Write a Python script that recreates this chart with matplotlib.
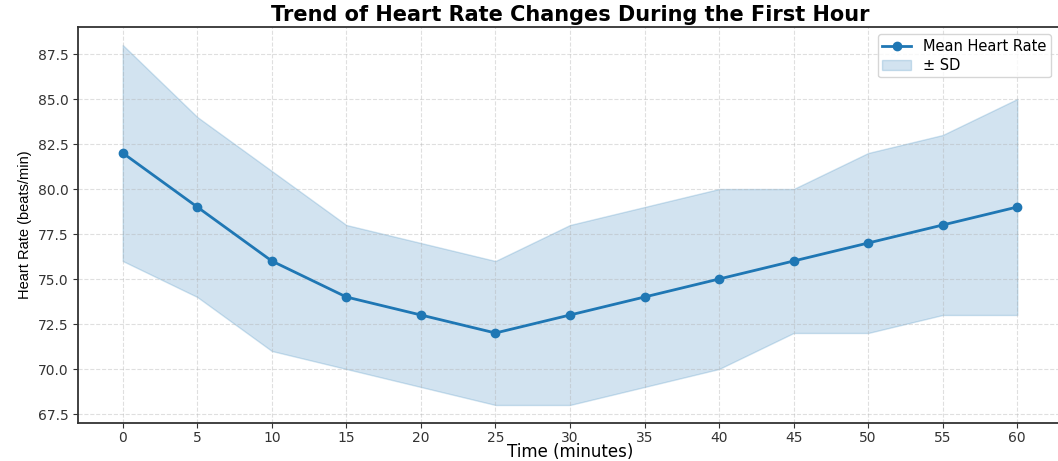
import numpy as np
import matplotlib.pyplot as plt

plt.rcParams["font.family"] = "DejaVu Sans"

# Heart rate over the first hour
time_min = [0, 5, 10, 15, 20, 25, 30, 35, 40, 45, 50, 55, 60]
mean_hr = [82, 79, 76, 74, 73, 72, 73, 74, 75, 76, 77, 78, 79]
upper_hr = [88, 84, 81, 78, 77, 76, 78, 79, 80, 80, 82, 83, 85]
lower_hr = [76, 74, 71, 70, 69, 68, 68, 69, 70, 72, 72, 73, 73]

fig = plt.figure(figsize=(10.58, 4.61), dpi=100)
ax = fig.add_axes([78 / 1058, 38 / 461, 984 / 1058, 396 / 461])

ax.plot(time_min, mean_hr, marker="o", color="#1f77b4", linewidth=2,
        markersize=6, label="Mean Heart Rate")
ax.fill_between(time_min, lower_hr, upper_hr, color="#1f77b4", alpha=0.2,
                label="± SD")

ax.set_xticks(time_min)
ax.set_yticks(np.arange(67.5, 88, 2.5))
ax.tick_params(labelsize=10, colors="#333333")
ax.tick_params(axis="x", pad=2.5)
ax.grid(True, linestyle="--", alpha=0.4)
for s in ax.spines.values():
    s.set_linewidth(1.3)
    s.set_color("#333333")

ax.set_title("Trend of Heart Rate Changes During the First Hour",
             fontsize=15, fontweight="bold", pad=4)
ax.set_xlabel("Time (minutes)", fontsize=12, labelpad=-1.5)
ax.set_ylabel("Heart Rate (beats/min)", fontsize=10.5, family="Liberation Sans")
ax.legend(loc="upper right", fontsize=10.5, bbox_to_anchor=(0.996, 1.0),
          borderpad=0.3, labelspacing=0.3)

plt.savefig("out.png", dpi=100)
